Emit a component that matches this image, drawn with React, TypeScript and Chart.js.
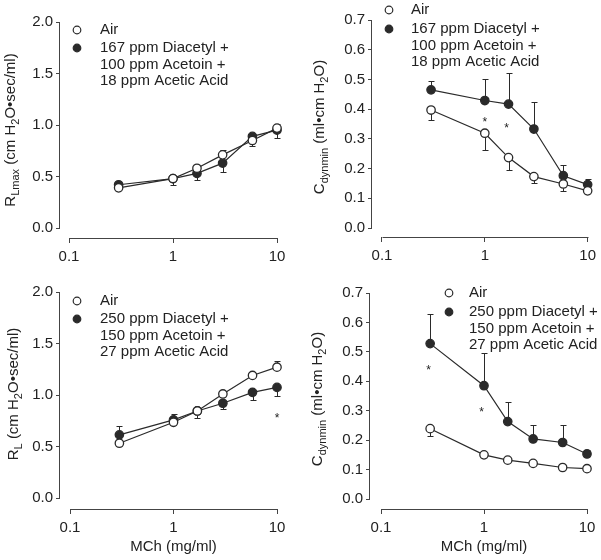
import React, { useEffect, useRef } from "react";
import { Chart, registerables } from "chart.js";

Chart.register(...registerables);

// ---------- data ----------
const doses = [0.3, 1, 1.7, 3, 5.8, 10];
const xTickValues = [0.1, 1, 10];
const xTickLabels = ["0.1", "1", "10"];
const rTicks = [0, 0.5, 1.0, 1.5, 2.0];
const cTicks = [0, 0.1, 0.2, 0.3, 0.4, 0.5, 0.6, 0.7];

const airLabel = "Air";
const mixLowLabel = ["167 ppm Diacetyl +", "100 ppm Acetoin +", "18 ppm Acetic Acid"];
const mixHighLabel = ["250 ppm Diacetyl +", "150 ppm Acetoin +", "27 ppm Acetic Acid"];
const xTitle = "MCh (mg/ml)";

// Panel A: RLmax, low mixture (signed SEM: + drawn up, - drawn down)
const rlmaxAir = [0.39, 0.48, 0.58, 0.71, 0.85, 0.97];
const rlmaxAirErr = [0, -0.06, 0, 0.05, -0.05, 0.04];
const rlmaxMix = [0.42, 0.48, 0.53, 0.63, 0.89, 0.95];
const rlmaxMixErr = [0, 0, -0.06, -0.09, 0, -0.08];

// Panel B: Cdynmin, low mixture
const cdynLowAir = [0.397, 0.319, 0.237, 0.173, 0.148, 0.125];
const cdynLowAirErr = [-0.035, -0.058, -0.041, -0.022, -0.023, 0];
const cdynLowMix = [0.465, 0.429, 0.417, 0.333, 0.176, 0.146];
const cdynLowMixErr = [0.03, 0.074, 0.106, 0.09, 0.035, 0.02];
const cdynLowStarX = [1, 1.63];
const cdynLowStarY = [0.367, 0.345];

// Panel C: RL, high mixture
const rlAir = [0.532, 0.735, 0.845, 1.01, 1.19, 1.27];
const rlAirErr = [0, 0, -0.07, 0, 0, 0.06];
const rlMix = [0.613, 0.758, 0.845, 0.92, 1.026, 1.074];
const rlMixErr = [0.087, 0.06, 0, -0.06, -0.07, -0.08];
const rlStarX = [10];
const rlStarY = [0.806];

// Panel D: Cdynmin, high mixture
const cdynHighAir = [0.239, 0.15, 0.132, 0.121, 0.107, 0.103];
const cdynHighAirErr = [-0.024, 0, 0, 0, 0, 0];
const cdynHighMix = [0.528, 0.385, 0.263, 0.204, 0.192, 0.153];
const cdynHighMixErr = [0.1, 0.11, 0.066, 0.047, 0.058, 0.014];
const cdynHighStarX = [0.29, 0.95];
const cdynHighStarY = [0.447, 0.306];

// ---------- styling ----------
const FONT = "'Liberation Sans', Arial, Helvetica, sans-serif";
const TEXT = "#222";
const LINE = "#2a2a2a";
const AXIS = "#444";
const FS = 15;

type Seg = { t: string; sub?: boolean };

const rlmaxTitle: Seg[] = [
  { t: "R" }, { t: "Lmax", sub: true }, { t: " (cm H" }, { t: "2", sub: true }, { t: "O\u2022sec/ml)" },
];
const rlTitle: Seg[] = [
  { t: "R" }, { t: "L", sub: true }, { t: " (cm H" }, { t: "2", sub: true }, { t: "O\u2022sec/ml)" },
];
const cdynTitle: Seg[] = [
  { t: "C" }, { t: "dynmin", sub: true }, { t: " (ml\u2022cm H" }, { t: "2", sub: true }, { t: "O)" },
];

type Panel = {
  left: number; top: number; w: number; h: number;
  area: { left: number; top: number; right: number; bottom: number };
  xOff: number; yOff: number;
  yTicks: number[];
  yTitle: Seg[]; yTitleX: number; yTitleCY: number;
  showXTitle: boolean; xTitleY: number;
  legend: { mx: number; tx: number; y0: number; y1: number; lh: number; mixLines: string[] };
  air: number[]; airErr: number[]; mix: number[]; mixErr: number[];
  starX: number[]; starY: number[];
};

const panels: Panel[] = [
  {
    left: 0, top: 0, w: 300, h: 280,
    area: { left: 60, top: 22, right: 277, bottom: 238 }, xOff: 9, yOff: 10,
    yTicks: rTicks, yTitle: rlmaxTitle, yTitleX: 15, yTitleCY: 130,
    showXTitle: false, xTitleY: 0,
    legend: { mx: 77, tx: 100, y0: 30, y1: 48, lh: 16.5, mixLines: mixLowLabel },
    air: rlmaxAir, airErr: rlmaxAirErr, mix: rlmaxMix, mixErr: rlmaxMixErr,
    starX: [], starY: [],
  },
  {
    left: 300, top: 0, w: 301, h: 280,
    area: { left: 72, top: 20, right: 288, bottom: 237 }, xOff: 10, yOff: 9,
    yTicks: cTicks, yTitle: cdynTitle, yTitleX: 24, yTitleCY: 127,
    showXTitle: false, xTitleY: 0,
    legend: { mx: 89, tx: 111, y0: 10, y1: 29, lh: 16.5, mixLines: mixLowLabel },
    air: cdynLowAir, airErr: cdynLowAirErr, mix: cdynLowMix, mixErr: cdynLowMixErr,
    starX: cdynLowStarX, starY: cdynLowStarY,
  },
  {
    left: 0, top: 280, w: 300, h: 280,
    area: { left: 60, top: 12, right: 277, bottom: 229 }, xOff: 10, yOff: 11,
    yTicks: rTicks, yTitle: rlTitle, yTitleX: 18, yTitleCY: 114,
    showXTitle: true, xTitleY: 267,
    legend: { mx: 77, tx: 100, y0: 21, y1: 39, lh: 16.5, mixLines: mixHighLabel },
    air: rlAir, airErr: rlAirErr, mix: rlMix, mixErr: rlMixErr,
    starX: rlStarX, starY: rlStarY,
  },
  {
    left: 300, top: 280, w: 301, h: 280,
    area: { left: 70, top: 13, right: 287, bottom: 229 }, xOff: 11, yOff: 10,
    yTicks: cTicks, yTitle: cdynTitle, yTitleX: 22, yTitleCY: 119,
    showXTitle: true, xTitleY: 267,
    legend: { mx: 149, tx: 169, y0: 13, y1: 32, lh: 16.5, mixLines: mixHighLabel },
    air: cdynHighAir, airErr: cdynHighAirErr, mix: cdynHighMix, mixErr: cdynHighMixErr,
    starX: cdynHighStarX, starY: cdynHighStarY,
  },
];

function drawSegs(ctx: CanvasRenderingContext2D, segs: Seg[], main: number, sub: number) {
  const widths = segs.map((s) => {
    ctx.font = `${s.sub ? sub : main}px ${FONT}`;
    return ctx.measureText(s.t).width;
  });
  const total = widths.reduce((a, b) => a + b, 0);
  let pos = -total / 2;
  segs.forEach((s, i) => {
    ctx.font = `${s.sub ? sub : main}px ${FONT}`;
    ctx.fillText(s.t, pos, s.sub ? 4 : 0);
    pos += widths[i];
  });
}

function PanelChart({ p }: { p: Panel }) {
  const ref = useRef<HTMLCanvasElement | null>(null);
  useEffect(() => {
    const canvas = ref.current;
    if (!canvas) return;
    const a = p.area;
    const yMax = p.yTicks[p.yTicks.length - 1];
    const decade = (a.right - a.left - p.xOff) / 2;
    const xMin = 0.1 * Math.pow(10, -p.xOff / decade);
    const perPx = yMax / (a.bottom - p.yOff - a.top);
    const yMin = -p.yOff * perPx;

    const overlay = {
      id: "overlay",
      beforeDatasetsDraw(chart: any) {
        const ctx = chart.ctx as CanvasRenderingContext2D;
        const xs = chart.scales.x;
        const ys = chart.scales.y;
        ctx.save();
        ctx.strokeStyle = LINE;
        ctx.lineWidth = 1;
        const sets = [
          { v: p.air, e: p.airErr },
          { v: p.mix, e: p.mixErr },
        ];
        sets.forEach((s) => {
          s.v.forEach((val, i) => {
            const err = s.e[i];
            if (!err) return;
            const px = Math.round(xs.getPixelForValue(doses[i])) + 0.5;
            const py0 = ys.getPixelForValue(val);
            const py1 = Math.round(ys.getPixelForValue(val + err)) + 0.5;
            ctx.beginPath();
            ctx.moveTo(px, py0);
            ctx.lineTo(px, py1);
            ctx.moveTo(px - 3, py1);
            ctx.lineTo(px + 3, py1);
            ctx.stroke();
          });
        });
        ctx.restore();
      },
      afterDraw(chart: any) {
        const ctx = chart.ctx as CanvasRenderingContext2D;
        const xs = chart.scales.x;
        const ys = chart.scales.y;
        const ca = chart.chartArea;
        ctx.save();
        // axis lines
        ctx.strokeStyle = AXIS;
        ctx.lineWidth = 1;
        const yTop = Math.round(ys.getPixelForValue(yMax)) + 0.5;
        const yBot = Math.round(ys.getPixelForValue(0)) + 0.5;
        const axX = Math.round(ca.left) - 0.5;
        ctx.beginPath();
        ctx.moveTo(axX, yTop);
        ctx.lineTo(axX, yBot);
        ctx.stroke();
        const x0 = xs.getPixelForValue(xTickValues[0]);
        const x1 = xs.getPixelForValue(xTickValues[xTickValues.length - 1]);
        const axY = Math.round(ca.bottom) + 0.5;
        ctx.beginPath();
        ctx.moveTo(Math.round(x0) + 0.5, axY);
        ctx.lineTo(Math.round(x1) + 0.5, axY);
        ctx.stroke();

        ctx.fillStyle = TEXT;
        // asterisks
        ctx.font = `12px ${FONT}`;
        ctx.textAlign = "center";
        ctx.textBaseline = "alphabetic";
        p.starX.forEach((sx, i) => {
          ctx.fillText("*", xs.getPixelForValue(sx), ys.getPixelForValue(p.starY[i]) + 7);
        });

        // y title
        ctx.save();
        ctx.translate(p.yTitleX, p.yTitleCY);
        ctx.rotate(-Math.PI / 2);
        ctx.textAlign = "left";
        ctx.textBaseline = "alphabetic";
        drawSegs(ctx, p.yTitle, FS, 11);
        ctx.restore();

        // x title
        if (p.showXTitle) {
          ctx.font = `${FS}px ${FONT}`;
          ctx.textAlign = "center";
          ctx.textBaseline = "middle";
          ctx.fillText(xTitle, (x0 + x1) / 2, p.xTitleY);
        }

        // legend
        const L = p.legend;
        ctx.lineWidth = 1.2;
        ctx.strokeStyle = LINE;
        ctx.beginPath();
        ctx.arc(L.mx, L.y0, 3.8, 0, Math.PI * 2);
        ctx.fillStyle = "#fff";
        ctx.fill();
        ctx.stroke();
        ctx.beginPath();
        ctx.arc(L.mx, L.y1, 3.8, 0, Math.PI * 2);
        ctx.fillStyle = LINE;
        ctx.fill();
        ctx.stroke();
        ctx.fillStyle = TEXT;
        ctx.font = `${FS}px ${FONT}`;
        ctx.textAlign = "left";
        ctx.textBaseline = "middle";
        ctx.fillText(airLabel, L.tx, L.y0);
        L.mixLines.forEach((t, i) => ctx.fillText(t, L.tx, L.y1 + i * L.lh));
        ctx.restore();
      },
    };

    const tickFont = { family: FONT, size: FS };
    const chart = new Chart(canvas, {
      type: "line",
      data: {
        datasets: [
          {
            label: airLabel,
            data: doses.map((x, i) => ({ x, y: p.air[i] })),
            borderColor: LINE,
            borderWidth: 1.2,
            pointRadius: 4.2,
            pointBorderWidth: 1.3,
            pointBackgroundColor: "#fff",
            pointBorderColor: LINE,
            tension: 0,
            clip: false,
          },
          {
            label: p.legend.mixLines.join(" "),
            data: doses.map((x, i) => ({ x, y: p.mix[i] })),
            borderColor: LINE,
            borderWidth: 1.2,
            pointRadius: 4.2,
            pointBorderWidth: 1.3,
            pointBackgroundColor: LINE,
            pointBorderColor: LINE,
            tension: 0,
            clip: false,
          },
        ],
      },
      options: {
        animation: false,
        responsive: false,
        maintainAspectRatio: false,
        layout: { padding: { left: 0, top: a.top, right: p.w - a.right, bottom: 0 } },
        plugins: { legend: { display: false }, tooltip: { enabled: false } },
        scales: {
          x: {
            type: "logarithmic",
            min: xMin,
            max: 10,
            bounds: "data",
            afterBuildTicks: (s: any) => {
              s.ticks = xTickValues.map((v) => ({ value: v }));
            },
            afterFit: (s: any) => {
              s.height = p.h - a.bottom;
            },
            ticks: {
              autoSkip: false,
              maxRotation: 0,
              padding: 5,
              color: TEXT,
              font: tickFont,
              callback: (_v: any, i: number) => xTickLabels[i],
            },
            grid: { display: true, drawOnChartArea: false, drawTicks: true, tickLength: 5, color: AXIS },
            border: { display: false },
          },
          y: {
            type: "linear",
            min: yMin,
            max: yMax,
            bounds: "data",
            afterBuildTicks: (s: any) => {
              s.ticks = p.yTicks.map((v) => ({ value: v }));
            },
            afterFit: (s: any) => {
              s.width = a.left;
            },
            ticks: {
              padding: 3,
              color: TEXT,
              font: tickFont,
              callback: (v: any) => Number(v).toFixed(1),
            },
            grid: { display: true, drawOnChartArea: false, drawTicks: true, tickLength: 4, color: AXIS },
            border: { display: false },
          },
        },
      },
      plugins: [overlay],
    } as any);
    return () => chart.destroy();
  }, [p]);
  return (
    <canvas
      ref={ref}
      width={p.w}
      height={p.h}
      style={{ position: "absolute", left: p.left, top: p.top, width: p.w, height: p.h }}
    />
  );
}

export default function App() {
  return (
    <div style={{ position: "absolute", left: 0, top: 0, width: 601, height: 560, background: "#fff" }}>
      {panels.map((p, i) => (
        <PanelChart key={i} p={p} />
      ))}
    </div>
  );
}
